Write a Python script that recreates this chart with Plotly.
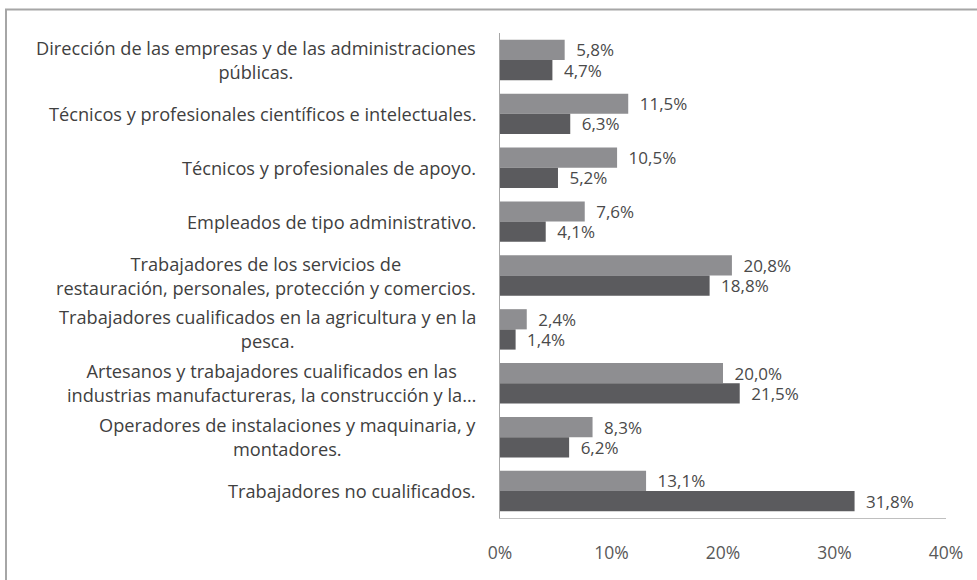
import plotly.graph_objects as go

# Occupational categories (top to bottom) and the two percentage series
categories = [
    "Dirección de las empresas y de las administraciones<br>públicas.",
    "Técnicos y profesionales científicos e intelectuales.",
    "Técnicos y profesionales de apoyo.",
    "Empleados de tipo administrativo.",
    "Trabajadores de los servicios de<br>restauración, personales, protección y comercios.",
    "Trabajadores cualificados en la agricultura y en la<br>pesca.",
    "Artesanos y trabajadores cualificados en las<br>industrias manufactureras, la construcción y la…",
    "Operadores de instalaciones y maquinaria, y<br>montadores.",
    "Trabajadores no cualificados.",
]
series_light = [5.8, 11.5, 10.5, 7.6, 20.8, 2.4, 20.0, 8.3, 13.1]
series_dark = [4.7, 6.3, 5.2, 4.1, 18.8, 1.4, 21.5, 6.2, 31.8]
x_ticks = [0, 10, 20, 30, 40]
x_ticklabels = ["0%", "10%", "20%", "30%", "40%"]

W, H = 977, 580
ML, MR, MT, MB = 500, 31, 33, 62
FONT = "'Open Sans', sans-serif"

fig = go.Figure()
for vals, color in ((series_light, "#8e8e91"), (series_dark, "#5b5b5e")):
    fig.add_trace(go.Bar(
        y=categories, x=vals, orientation="h",
        marker=dict(color=color, line=dict(width=0)),
        texttemplate="\u2002%{x:.1f}%", textposition="outside",
        textfont=dict(family=FONT, size=17, color="#4a4a4a"),
        constraintext="none", cliponaxis=False,
        hoverinfo="skip",
    ))

# Category labels, centred lines right-aligned against the axis
for cat in categories:
    fig.add_annotation(
        x=0, xref="paper", y=cat, yref="y", text=cat,
        xanchor="right", yanchor="middle", align="center", xshift=-22,
        showarrow=False, font=dict(family=FONT, size=18.2, color="#404040"),
    )

# Outer chart frame (left and top edges visible)
pw, ph = W - ML - MR, H - MT - MB
fig.add_shape(
    type="rect", xref="paper", yref="paper",
    x0=(6 - ML) / pw, x1=(W + 20 - ML) / pw,
    y0=-(H + 20 - MT - ph) / ph, y1=1 + (MT - 9.5) / ph,
    line=dict(color="#a6a6a6", width=2), fillcolor="rgba(0,0,0,0)", layer="below",
)

fig.update_layout(
    width=W, height=H, margin=dict(l=ML, r=MR, t=MT, b=MB),
    barmode="group", bargap=0.25, bargroupgap=0,
    separators=",.", showlegend=False,
    paper_bgcolor="white", plot_bgcolor="white",
    font=dict(family=FONT, color="#595959"),
    xaxis=dict(range=[0, 40], tickvals=x_ticks, ticktext=x_ticklabels,
               showgrid=False, zeroline=False, showline=True, linecolor="#bfbfbf",
               linewidth=1, ticks="", ticklabelstandoff=19,
               tickfont=dict(family=FONT, size=17.5, color="#595959")),
    yaxis=dict(autorange="reversed", showticklabels=False, showgrid=False,
               zeroline=False, showline=True, linecolor="#a6a6a6", linewidth=1,
               ticks=""),
)

fig.write_html("out.html")
